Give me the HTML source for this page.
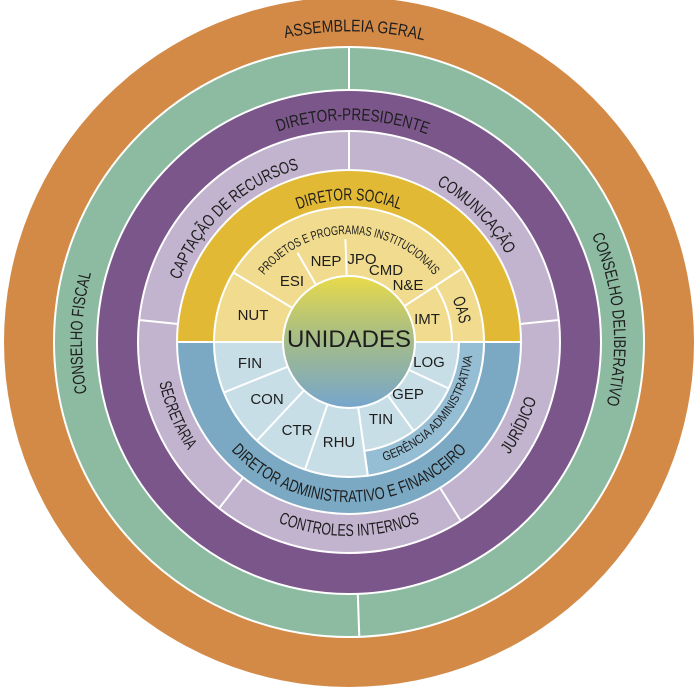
<!DOCTYPE html>
<html><head><meta charset="utf-8"><style>
html,body{margin:0;padding:0;background:#fff;}
svg{display:block;}
text{font-family:"Liberation Sans",sans-serif;fill:#1e1e1e;}
</style></head><body>
<svg width="700" height="690" viewBox="0 0 700 690" xmlns="http://www.w3.org/2000/svg">
<defs>
<linearGradient id="cg" x1="0" y1="0" x2="0" y2="1">
<stop offset="0" stop-color="#E8DA4A"/><stop offset="0.45" stop-color="#A8BE84"/><stop offset="1" stop-color="#76A5CC"/>
</linearGradient>
<path id="pAG" d="M153.6,100.6 A311 311 0 0 1 553.0,107.5"/>
<path id="pCF" d="M138.6,506.4 A267 267 0 0 1 150.6,163.4"/>
<path id="pCD" d="M536.4,154.6 A265 265 0 0 1 566.1,494.0"/>
<path id="pDP" d="M209.3,169.5 A222 222 0 0 1 494.6,174.5"/>
<path id="pCR" d="M169.1,335.7 A180 180 0 0 1 355.3,162.1"/>
<path id="pCO" d="M349,162 A180 180 0 0 1 529,342"/>
<path id="pDS" d="M248.6,241.6 A142 142 0 0 1 449.4,241.6"/>
<path id="pPP" d="M255.5,288 A108 108 0 0 1 442.5,288"/>
<path id="pSE" d="M163.5,285.3 A194 194 0 0 0 260.9,514.9"/>
<path id="pCI" d="M224.3,490.6 A194 194 0 0 0 473.7,490.6"/>
<path id="pJU" d="M428.7,521.0 A196 196 0 0 0 539.2,294.6"/>
<path id="pDA" d="M198.6,396.7 A160 160 0 0 0 499.4,396.7"/>
<path id="pGA" d="M349,466 A124 124 0 0 0 471.1,320.5"/>
<path id="pOA" d="M411.6,249.2 A112 112 0 0 1 451.3,387.6"/>
</defs>
<g stroke="#fff" stroke-width="2">
<circle cx="349" cy="342" r="345" fill="#D38A47" stroke="none"/>
<circle cx="349" cy="342" r="295" fill="#8DBBA2"/>
<circle cx="349" cy="342" r="252" fill="#7B568B"/>
<circle cx="349" cy="342" r="211" fill="#C2B3CE"/>
<path d="M177,342 A172 172 0 0 1 521,342 Z" fill="#E2B935"/>
<path d="M177,342 A172 172 0 0 0 521,342 Z" fill="#7BA9C3"/>
<path d="M214,342 A135 135 0 0 1 484,342 Z" fill="#F0DB8E"/>
<path d="M214,342 A135 135 0 0 0 484,342 Z" fill="#C8DEE6"/>
<path d="M484,342 A135 135 0 0 1 367.8,475.7 L364.3,450.9 A110 110 0 0 0 459,342 Z" fill="#95BDD3"/>
<line x1="349" y1="47" x2="349" y2="90"/>
<line x1="357.8" y1="594" x2="359.3" y2="637"/>
<line x1="349" y1="131" x2="349" y2="170"/>
<line x1="178" y1="324" x2="139.2" y2="320"/>
<line x1="520.1" y1="324" x2="558.8" y2="320"/>
<line x1="243.1" y1="477.5" x2="219.1" y2="508.3"/>
<line x1="440.1" y1="487.9" x2="460.8" y2="520.9"/>
<line x1="292.4" y1="308" x2="233.3" y2="272.5"/>
<line x1="316" y1="284.8" x2="297.5" y2="252.8"/>
<line x1="346.7" y1="276" x2="345.4" y2="239.1"/>
<line x1="404.4" y1="306.1" x2="462.2" y2="268.5"/>
<path d="M452,342 A103 103 0 0 0 435.4,285.9" fill="none"/>
<line x1="287.8" y1="366.7" x2="223.8" y2="392.6"/>
<line x1="304" y1="390.3" x2="256.9" y2="440.7"/>
<line x1="327.5" y1="404.4" x2="305" y2="469.6"/>
<line x1="358.2" y1="407.4" x2="367.8" y2="475.7"/>
<line x1="387.8" y1="395.4" x2="413.7" y2="431"/>
<line x1="408.8" y1="369.9" x2="448.7" y2="388.5"/>
<circle cx="349" cy="342" r="66" fill="url(#cg)"/>
</g>
<g font-size="17">
<text><textPath href="#pAG" startOffset="50%" text-anchor="middle" textLength="140" lengthAdjust="spacingAndGlyphs">ASSEMBLEIA GERAL</textPath></text>
<text><textPath href="#pCF" startOffset="50%" text-anchor="middle" textLength="121" lengthAdjust="spacingAndGlyphs">CONSELHO FISCAL</textPath></text>
<text><textPath href="#pCD" startOffset="50%" text-anchor="middle" textLength="173" lengthAdjust="spacingAndGlyphs">CONSELHO DELIBERATIVO</textPath></text>
<text><textPath href="#pDP" startOffset="50%" text-anchor="middle" textLength="152" lengthAdjust="spacingAndGlyphs">DIRETOR-PRESIDENTE</textPath></text>
<text><textPath href="#pCR" startOffset="50%" text-anchor="middle" textLength="169" lengthAdjust="spacingAndGlyphs">CAPTAÇÃO DE RECURSOS</textPath></text>
<text><textPath href="#pCO" startOffset="50%" text-anchor="middle" textLength="100" lengthAdjust="spacingAndGlyphs">COMUNICAÇÃO</textPath></text>
<text><textPath href="#pDS" startOffset="50%" text-anchor="middle" textLength="104" lengthAdjust="spacingAndGlyphs">DIRETOR SOCIAL</textPath></text>
<text><textPath href="#pSE" startOffset="50%" text-anchor="middle" textLength="74" lengthAdjust="spacingAndGlyphs">SECRETARIA</textPath></text>
<text><textPath href="#pCI" startOffset="50%" text-anchor="middle" textLength="145" lengthAdjust="spacingAndGlyphs">CONTROLES INTERNOS</textPath></text>
<text><textPath href="#pJU" startOffset="50%" text-anchor="middle" textLength="62" lengthAdjust="spacingAndGlyphs">JURÍDICO</textPath></text>
<text><textPath href="#pDA" startOffset="50%" text-anchor="middle" textLength="265" lengthAdjust="spacingAndGlyphs">DIRETOR ADMINISTRATIVO E FINANCEIRO</textPath></text>
<text><textPath href="#pOA" startOffset="50%" text-anchor="middle" textLength="26" lengthAdjust="spacingAndGlyphs">OAS</textPath></text>
</g>
<g font-size="12.5">
<text><textPath href="#pPP" startOffset="50%" text-anchor="middle" textLength="195" lengthAdjust="spacingAndGlyphs">PROJETOS E PROGRAMAS INSTITUCIONAIS</textPath></text>
<text><textPath href="#pGA" startOffset="50%" text-anchor="middle" textLength="145" lengthAdjust="spacingAndGlyphs">GERÊNCIA ADMINISTRATIVA</textPath></text>
</g>
<g font-size="15" text-anchor="middle">
<text x="253" y="320">NUT</text>
<text x="292" y="286">ESI</text>
<text x="326" y="266">NEP</text>
<text x="362" y="264">JPO</text>
<text x="386" y="275">CMD</text>
<text x="408" y="290">N&amp;E</text>
<text x="427" y="324">IMT</text>
<text x="250" y="368">FIN</text>
<text x="267" y="404">CON</text>
<text x="297" y="435">CTR</text>
<text x="339" y="447">RHU</text>
<text x="381" y="424">TIN</text>
<text x="408" y="399">GEP</text>
<text x="429" y="367">LOG</text>
</g>
<text x="349" y="347" font-size="24" text-anchor="middle">UNIDADES</text>
</svg>
</body></html>
